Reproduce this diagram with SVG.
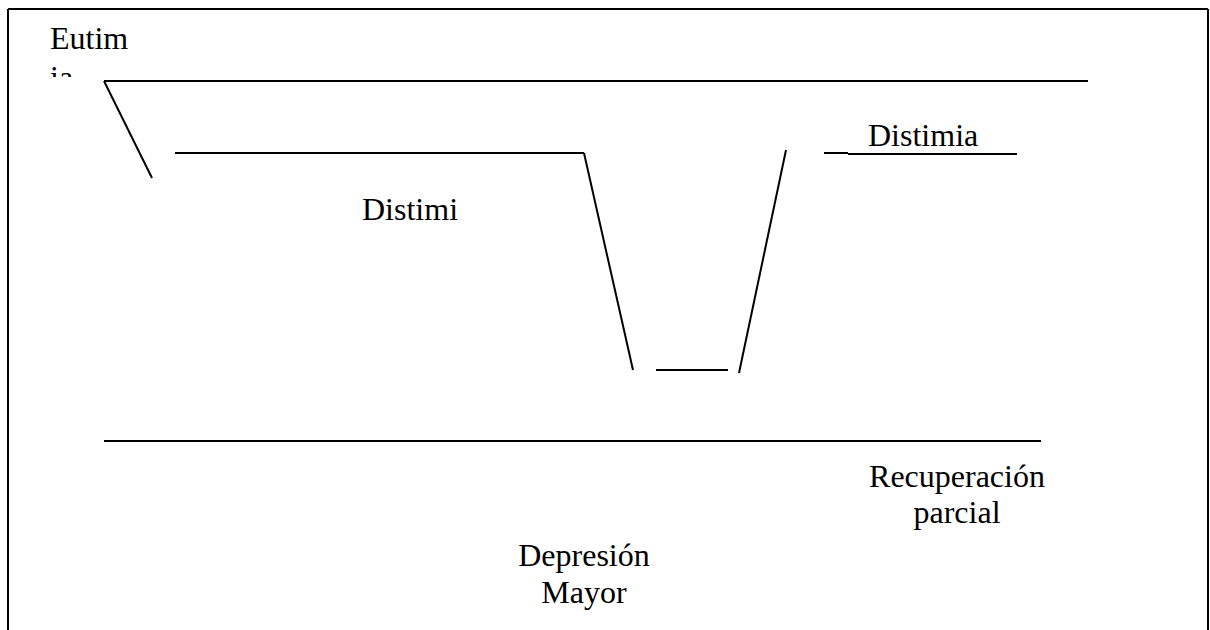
<svg xmlns="http://www.w3.org/2000/svg" width="1210" height="630" viewBox="0 0 1210 630">
<style>
.ln{stroke:#000;stroke-width:2;fill:none}
.t{font-family:"Liberation Serif","Times New Roman",serif;font-size:32px;fill:#000}
</style>
<defs>
<clipPath id="eclip"><rect x="40" y="15" width="120" height="62"/></clipPath>
</defs>
<rect width="1210" height="630" fill="#fff"/>
<g id="frame">
<line class="ln" x1="8" y1="9" x2="1208" y2="9"/>
<line class="ln" x1="8" y1="9" x2="8" y2="630"/>
<line class="ln" x1="1208" y1="9" x2="1208" y2="630"/>
</g>
<g id="connectors">
<line class="ln" x1="104" y1="81" x2="153" y2="81" stroke-width="1.5"/>
<line class="ln" x1="153" y1="81" x2="1088" y2="81"/>
<line class="ln" x1="104" y1="81" x2="152" y2="178"/>
<line class="ln" x1="175" y1="153" x2="584" y2="153"/>
<line class="ln" x1="584" y1="153" x2="633" y2="370"/>
<line class="ln" x1="656" y1="370" x2="728" y2="370"/>
<line class="ln" x1="739" y1="373" x2="786" y2="150"/>
<line class="ln" x1="824" y1="153" x2="848" y2="153"/>
<line class="ln" x1="848" y1="154" x2="1017" y2="154" stroke-width="1.5"/>
<line class="ln" x1="104" y1="441" x2="1041" y2="441"/>
</g>
<g id="eutimia">
<text class="t" clip-path="url(#eclip)"><tspan x="50" y="49">Eutim</tspan><tspan x="50" y="88">ia</tspan></text>
</g>
<g id="distimi">
<text class="t" x="362" y="220">Distimi</text>
</g>
<g id="distimia">
<text class="t" x="868" y="146">Distimia</text>
</g>
<g id="recuperacion">
<text class="t" text-anchor="middle" x="957" y="487">Recuperación</text>
<text class="t" text-anchor="middle" x="957" y="523">parcial</text>
</g>
<g id="depresion">
<text class="t" text-anchor="middle" x="584" y="566">Depresión</text>
<text class="t" text-anchor="middle" x="584" y="603">Mayor</text>
</g>
</svg>
